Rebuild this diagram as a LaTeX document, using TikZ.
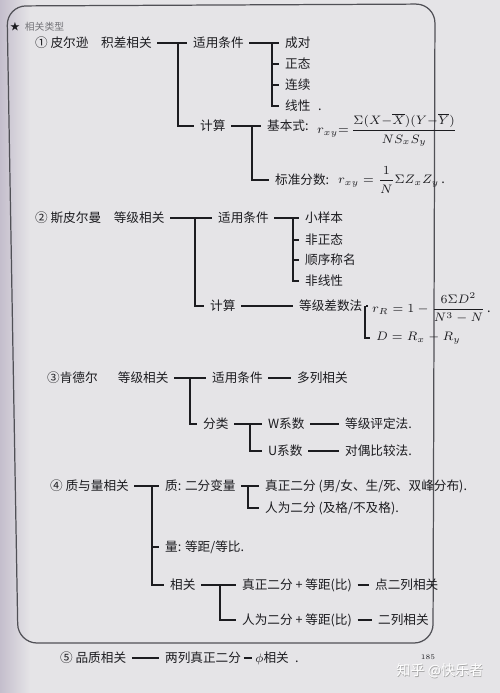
\documentclass[tikz,border=0pt]{standalone}
\usepackage{fontspec}
\usepackage{amsmath}
\newfontfamily\hand{Noto Sans CJK SC}
\definecolor{paper}{RGB}{229,228,231}
\definecolor{shadow}{RGB}{196,190,204}
\definecolor{ink}{RGB}{28,28,32}
\definecolor{rim}{RGB}{80,80,86}
\tikzset{
  txt/.style={anchor=west, inner sep=1pt, text=ink,
    font=\hand\fontsize{7.2}{8.6}\selectfont},
  link/.style={draw=ink, line width=0.6pt, shorten <=2pt, shorten >=2pt},
  branch/.style={draw=ink, line width=0.6pt, shorten >=2pt},
}
\begin{document}
\begin{tikzpicture}[x={(0.02cm,0cm)}, y={(0cm,-0.02cm)}]
    \useasboundingbox (0,0) rectangle (500,693);
    \fill[paper] (0,0) rectangle (500,693);
    \shade[left color=shadow, right color=paper] (0,0) rectangle (30,693);
    \draw[rim, line width=0.7pt, rounded corners=0.38cm]
        (7,6) -- (435,4) -- (433,643) -- (18,643) -- cycle;

    \node[txt, font=\hand\fontsize{5.6}{6.6}\selectfont] (ttl) at (8,27)
        {★\hspace{0.5em}\textcolor{rim!80}{相关类型}};

    % ① 皮尔逊积差相关
    \node[txt] (p1) at (33,43) {① 皮尔逊\hspace{1em}积差相关};
    \node[txt] (c1) at (191,43) {适用条件};
    \node[txt] (c1a) at (283,43) {成对};
    \node[txt] (c1b) at (283,64) {正态};
    \node[txt] (c1c) at (283,85) {连续};
    \node[txt] (c1d) at (283,106) {线性\hspace{0.6em}.};
    \node[txt] (k1) at (198,126) {计算};
    \node[txt] (k1a) at (265,126) {基本式:};
    \node[txt, font=\fontsize{6.6}{8}\selectfont] (f1a) at (315,130)
        {$r_{xy}{=}\,\dfrac{\Sigma(X{-}\overline{X})(Y{-}\overline{Y})}{NS_xS_y}$};
    \node[txt] (k1b) at (273,180) {标准分数:};
    \node[txt] (f1b) at (336,180) {$r_{xy}=\dfrac{1}{N}\Sigma Z_xZ_y$\,.};
    \coordinate (j1) at (178,0);
    \coordinate (j1c) at (272,0);
    \coordinate (j1k) at (252,0);
    \draw[link] (p1.east) -- (c1.west);
    \draw[branch] (p1.east -| j1) |- (k1.west);
    \draw[link] (c1.east) -- (c1a.west);
    \foreach \n in {c1b,c1c,c1d}
        \draw[branch] (c1.east -| j1c) |- (\n.west);
    \draw[link] (k1.east) -- (k1a.west);
    \draw[branch] (k1.east -| j1k) |- (k1b.west);

    % ② 斯皮尔曼等级相关
    \node[txt] (p2) at (33,218) {② 斯皮尔曼\hspace{1em}等级相关};
    \node[txt] (c2) at (216,218) {适用条件};
    \node[txt] (c2a) at (303,218) {小样本};
    \node[txt] (c2b) at (303,240) {非正态};
    \node[txt] (c2c) at (303,260) {顺序称名};
    \node[txt] (c2d) at (303,281) {非线性};
    \node[txt] (k2) at (208,306) {计算};
    \node[txt] (k2a) at (297,306) {等级差数法};
    \node[txt] (f2a) at (370,308) {$r_R=1-\dfrac{6\Sigma D^2}{N^3-N}$\,.};
    \node[txt] (f2b) at (374,338) {$D=R_x-R_y$};
    \coordinate (j2) at (195,0);
    \coordinate (j2c) at (293,0);
    \coordinate (j2k) at (365,0);
    \draw[link] (p2.east) -- (c2.west);
    \draw[branch] (p2.east -| j2) |- (k2.west);
    \draw[link] (c2.east) -- (c2a.west);
    \foreach \n in {c2b,c2c,c2d}
        \draw[branch] (c2.east -| j2c) |- (\n.west);
    \draw[link] (k2.east) -- (k2a.west);
    \draw[link] (k2a.east) -- (k2a.east -| f2a.west);
    \draw[branch] (k2a.east -| j2k) |- (f2b.west);

    % ③ 肯德尔等级相关
    \node[txt] (p3) at (45,378) {③肯德尔\hspace{1.6em}等级相关};
    \node[txt] (c3) at (210,378) {适用条件};
    \node[txt] (c3a) at (295,378) {多列相关};
    \node[txt] (k3) at (201,424) {分类};
    \node[txt] (k3a) at (266,424) {W系数};
    \node[txt] (k3b) at (266,451) {U系数};
    \node[txt] (k3c) at (343,424) {等级评定法.};
    \node[txt] (k3d) at (343,451) {对偶比较法.};
    \coordinate (j3) at (190,0);
    \coordinate (j3k) at (250,0);
    \draw[link] (p3.east) -- (c3.west);
    \draw[branch] (p3.east -| j3) |- (k3.west);
    \draw[link] (c3.east) -- (c3a.west);
    \draw[link] (k3.east) -- (k3a.west);
    \draw[branch] (k3.east -| j3k) |- (k3b.west);
    \draw[link] (k3a.east) -- (k3c.west);
    \draw[link] (k3b.east) -- (k3d.west);

    % ④ 质与量相关
    \node[txt] (p4) at (48,486) {④ 质与量相关};
    \node[txt] (q4) at (163,486) {质: 二分变量};
    \node[txt] (q4a) at (263,486) {真正二分 (男/女、生/死、双峰分布).};
    \node[txt] (q4b) at (263,508) {人为二分 (及格/不及格).};
    \node[txt] (l4) at (163,547) {量: 等距/等比.};
    \node[txt] (r4) at (168,585) {相关};
    \node[txt] (r4a) at (240,585) {真正二分 + 等距(比)};
    \node[txt] (r4b) at (240,620) {人为二分 + 等距(比)};
    \node[txt] (r4c) at (373,585) {点二列相关};
    \node[txt] (r4d) at (376,620) {二列相关};
    \coordinate (j4) at (152,0);
    \coordinate (j4q) at (248,0);
    \coordinate (j4r) at (220,0);
    \draw[link] (p4.east) -- (q4.west);
    \draw[branch] (p4.east -| j4) |- (l4.west);
    \draw[branch] (p4.east -| j4) |- (r4.west);
    \draw[link] (q4.east) -- (q4a.west);
    \draw[branch] (q4.east -| j4q) |- (q4b.west);
    \draw[link] (r4.east) -- (r4a.west);
    \draw[branch] (r4.east -| j4r) |- (r4b.west);
    \draw[link] (r4a.east) -- (r4c.west);
    \draw[link] (r4b.east) -- (r4d.west);

    % ⑤ 品质相关
    \node[txt] (p5) at (58,658) {⑤ 品质相关};
    \node[txt] (p5a) at (163,658) {两列真正二分};
    \node[txt] (p5b) at (253,658) {$\phi$相关\hspace{0.5em}.};
    \draw[link] (p5.east) -- (p5a.west);
    \draw[link, shorten <=0.5pt, shorten >=0.5pt] (p5a.east) -- (p5b.west);

    \node[font=\fontsize{4}{5}\selectfont, text=ink] (pg) at (428,657) {185};
    \node[font=\hand\fontsize{8}{9.6}\selectfont, text=black!35] (wms) at (440.6,671.6)
        {知乎 @快乐者};
    \node[font=\hand\fontsize{8}{9.6}\selectfont, text=white] (wm) at (440,671)
        {知乎 @快乐者};
\end{tikzpicture}
\end{document}
